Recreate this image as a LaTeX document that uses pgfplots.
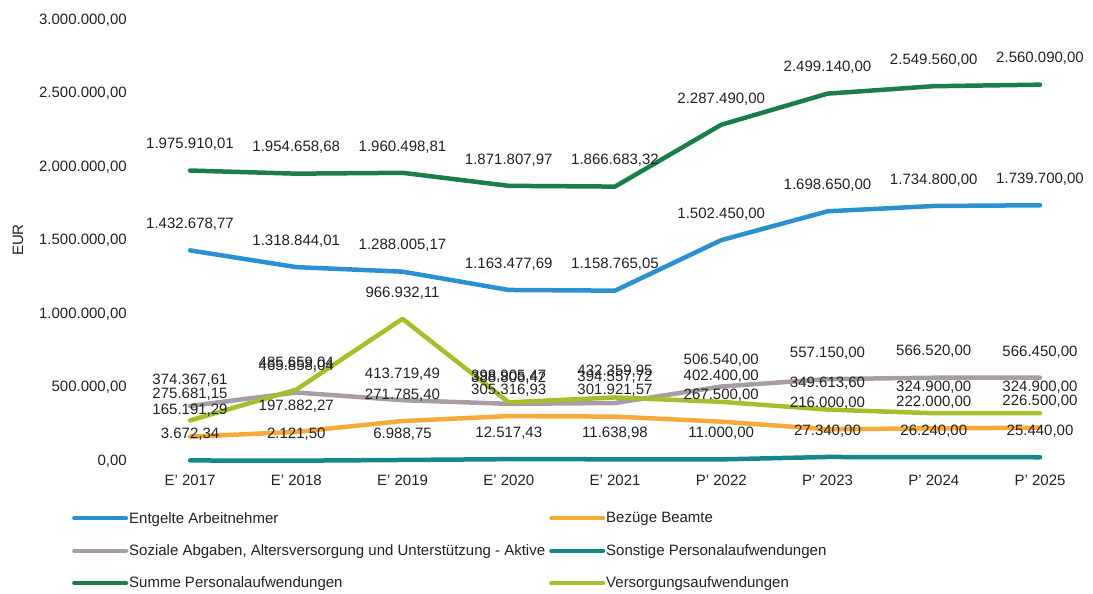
\documentclass[border=0pt]{standalone}
\usepackage{fontspec}
\setmainfont{Liberation Sans}
\usepackage{pgfplots}
\pgfplotsset{compat=1.18}
\usepackage{pgfplotstable}

\definecolor{cBlue}{HTML}{2A90D0}
\definecolor{cOrange}{HTML}{F7A93A}
\definecolor{cGrey}{HTML}{A89CA8}
\definecolor{cTeal}{HTML}{14868C}
\definecolor{cGreen}{HTML}{1B7E4A}
\definecolor{cLime}{HTML}{A6BE2C}
\definecolor{cText}{HTML}{222222}

\pgfplotstableread{
x y lab
0 1432678.77 1.432.678,77
1 1318844.01 1.318.844,01
2 1288005.17 1.288.005,17
3 1163477.69 1.163.477,69
4 1158765.05 1.158.765,05
5 1502450.00 1.502.450,00
6 1698650.00 1.698.650,00
7 1734800.00 1.734.800,00
8 1739700.00 1.739.700,00
}\entgelte

\pgfplotstableread{
x y lab
0 165191.29 165.191,29
1 197882.27 197.882,27
2 271785.40 271.785,40
3 305316.93 305.316,93
4 301921.57 301.921,57
5 267500.00 267.500,00
6 216000.00 216.000,00
7 222000.00 222.000,00
8 226500.00 226.500,00
}\bezuege

\pgfplotstableread{
x y lab
0 374367.61 374.367,61
1 465858.04 465.858,04
2 413719.49 413.719,49
3 388806.42 388.806,42
4 394557.72 394.557,72
5 506540.00 506.540,00
6 557150.00 557.150,00
7 566520.00 566.520,00
8 566450.00 566.450,00
}\soziale

\pgfplotstableread{
x y lab
0 3672.34 3.672,34
1 2121.50 2.121,50
2 6988.75 6.988,75
3 12517.43 12.517,43
4 11638.98 11.638,98
5 11000.00 11.000,00
6 27340.00 27.340,00
7 26240.00 26.240,00
8 25440.00 25.440,00
}\sonstige

\pgfplotstableread{
x y lab
0 1975910.01 1.975.910,01
1 1954658.68 1.954.658,68
2 1960498.81 1.960.498,81
3 1871807.97 1.871.807,97
4 1866683.32 1.866.683,32
5 2287490.00 2.287.490,00
6 2499140.00 2.499.140,00
7 2549560.00 2.549.560,00
8 2560090.00 2.560.090,00
}\summe

\pgfplotstableread{
x y lab
0 275681.15 275.681,15
1 485659.04 485.659,04
2 966932.11 966.932,11
3 398905.47 398.905,47
4 432359.95 432.359,95
5 402400.00 402.400,00
6 349613.60 349.613,60
7 324900.00 324.900,00
8 324900.00 324.900,00
}\versorgung

\begin{document}
\begin{tikzpicture}[font=\fontsize{15}{18}\selectfont]
\begin{axis}[
  at={(136.9pt,133pt)}, anchor=south west,
  scale only axis, width=956.25pt, height=441pt,
  xmin=-0.5, xmax=8.5, ymin=0, ymax=3000000,
  clip=false,
  scaled y ticks=false,
  axis line style={draw=none},
  tick style={draw=none},
  xtick={0,...,8},
  xticklabels={E' 2017,E' 2018,E' 2019,E' 2020,E' 2021,P' 2022,P' 2023,P' 2024,P' 2025},
  ytick={0,500000,1000000,1500000,2000000,2500000,3000000},
  yticklabels={{0,00},{500.000,00},{1.000.000,00},{1.500.000,00},{2.000.000,00},{2.500.000,00},{3.000.000,00}},
  yticklabel style={inner sep=0pt, anchor=east, xshift=-10pt, text=cText},
  xticklabel style={inner sep=0pt, anchor=north, yshift=-14pt, text=cText},
  ylabel={EUR},
  every axis y label/.style={at={(axis description cs:-0.1243,0.501)}, rotate=90, anchor=center, text=cText},
  nodes near coords={\pgfplotspointmeta},
  point meta=explicit symbolic,
  every node near coord/.append style={anchor=center, yshift=26pt, text=cText, inner sep=0pt},
  legend columns=2,
  legend cell align=left,
  legend style={at={(axis description cs:-0.0679,-0.1134)}, anchor=north west, draw=none, fill=none, inner sep=0pt, row sep=18pt,
    nodes={inner sep=1pt, text=cText}},
  /tikz/every even column/.append style={column sep=3pt},
  legend image code/.code={\draw[#1, line width=4pt] (0pt,0pt) -- (52pt,0pt);},
  every axis plot/.append style={line width=4.5pt, line join=round, line cap=round},
]
\addplot[color=cBlue, mark=none] table[x=x, y=y, meta=lab] {\entgelte};
\addlegendentry{Entgelte Arbeitnehmer}
\addplot[color=cOrange, mark=none] table[x=x, y=y, meta=lab] {\bezuege};
\addlegendentry{Bezüge Beamte}
\addplot[color=cGrey, mark=none] table[x=x, y=y, meta=lab] {\soziale};
\addlegendentry{Soziale Abgaben, Altersversorgung und Unterstützung - Aktive}
\addplot[color=cTeal, mark=none] table[x=x, y=y, meta=lab] {\sonstige};
\addlegendentry{Sonstige Personalaufwendungen}
\addplot[color=cGreen, mark=none] table[x=x, y=y, meta=lab] {\summe};
\addlegendentry{Summe Personalaufwendungen}
\addplot[color=cLime, mark=none] table[x=x, y=y, meta=lab] {\versorgung};
\addlegendentry{Versorgungsaufwendungen}
\end{axis}
\pgfresetboundingbox
\path[use as bounding box] (0,0) rectangle (1093pt,594pt);
\end{tikzpicture}
\end{document}
